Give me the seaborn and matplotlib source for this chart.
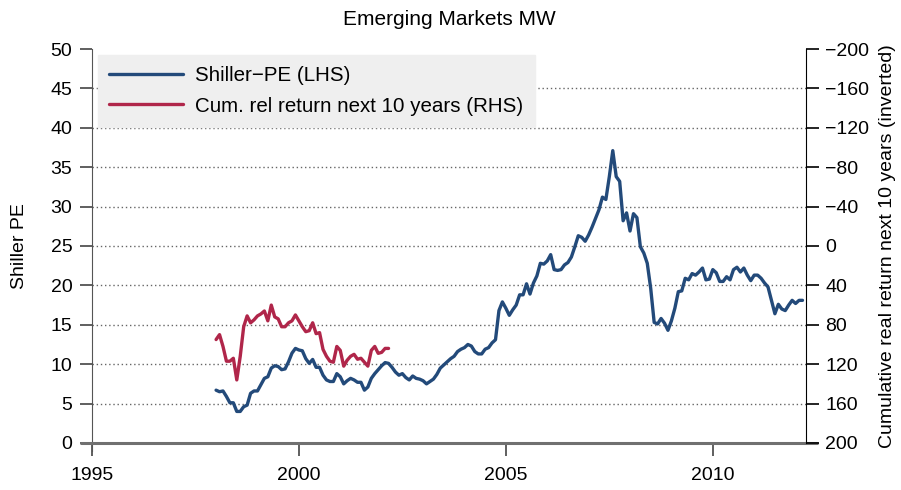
import matplotlib
matplotlib.use("Agg")
import matplotlib.pyplot as plt
import pandas as pd
import seaborn as sns
import numpy as np

# Shiller PE, monthly from Jan 1998 (LHS)
shiller_pe = [6.7, 6.5, 6.6, 5.9, 5.1, 5.1, 4.0, 4.0, 4.6, 4.8, 6.3, 6.6,
              6.6, 7.4, 8.2, 8.4, 9.5, 9.8, 9.7, 9.3, 9.4, 10.3, 11.4, 12.0,
              11.8, 11.7, 10.7, 10.1, 10.6, 9.6, 9.6, 8.6, 8.0, 7.8, 7.8, 8.8,
              8.4, 7.5, 7.9, 8.2, 8.0, 7.7, 7.7, 6.7, 7.1, 8.2, 8.8, 9.3,
              9.8, 10.2, 10.1, 9.6, 9.0, 8.6, 8.8, 8.3, 8.0, 8.5, 8.2, 8.1,
              7.9, 7.5, 7.8, 8.1, 8.7, 9.5, 9.9, 10.3, 10.7, 11.0, 11.6, 11.9,
              12.1, 12.5, 12.3, 11.6, 11.3, 11.3, 11.9, 12.1, 12.7, 13.1, 16.8, 17.9,
              17.1, 16.2, 16.9, 17.5, 18.8, 18.8, 20.2, 18.9, 20.3, 21.2, 22.8, 22.7,
              23.1, 23.9, 22.0, 21.9, 22.0, 22.6, 22.9, 23.6, 24.9, 26.3, 26.1, 25.6,
              26.4, 27.4, 28.5, 29.6, 31.2, 30.9, 33.8, 37.1, 33.8, 33.2, 28.2, 29.2,
              26.9, 29.1, 28.6, 24.9, 24.1, 22.8, 19.6, 15.3, 15.1, 15.8, 15.2, 14.3,
              15.5, 17.1, 19.2, 19.3, 20.9, 20.7, 21.5, 21.3, 21.7, 22.2, 20.7, 20.8,
              22.0, 21.6, 20.5, 20.5, 21.1, 20.7, 22.0, 22.3, 21.7, 22.2, 21.3, 20.6,
              21.3, 21.3, 20.9, 20.3, 19.8, 18.1, 16.4, 17.6, 17.0, 16.8, 17.5, 18.1,
              17.7, 18.1, 18.1]

# cumulative relative return over the next 10 years, monthly from Jan 1998 (RHS, inverted)
cum_rel_return = [95, 90, 102, 117, 117, 114, 136, 112, 82, 71, 78, 75,
                  71, 69, 66, 76, 60, 72, 74, 82, 82, 78, 76, 70,
                  76, 82, 87, 86, 78, 89, 88, 105, 112, 117, 118, 102,
                  106, 122, 116, 112, 110, 115, 114, 118, 122, 106, 102, 109,
                  108, 104, 104]

def to_year(n):
    # decimal years for monthly data starting Jan 1998
    return 1998 + np.arange(n) / 12.0

pe_df = pd.DataFrame({'year': to_year(len(shiller_pe)), 'value': shiller_pe})
ret_df = pd.DataFrame({'year': to_year(len(cum_rel_return)), 'value': cum_rel_return})

blue = '#234a7a'
red = '#b0264a'

sns.set_style("white")
plt.rcParams['font.family'] = ['Liberation Sans', 'DejaVu Sans']
plt.rcParams['text.color'] = 'black'
plt.rcParams['axes.labelcolor'] = 'black'
plt.rcParams['xtick.labelcolor'] = 'black'
plt.rcParams['ytick.labelcolor'] = 'black'

fig = plt.figure(figsize=(9.01, 4.9), dpi=100)
ax = fig.add_axes([0.102, 0.096, 0.7925, 0.804])
ax2 = ax.twinx()

sns.lineplot(data=pe_df, x='year', y='value', ax=ax, color=blue, lw=2.4, label='Shiller\u2212PE (LHS)', legend=False)
sns.lineplot(data=ret_df, x='year', y='value', ax=ax2, color=red, lw=2.4, label='Cum. rel return next 10 years (RHS)', legend=False)

ax.set_xlim(1995, 2012.25)
ax.set_ylim(0, 50)
ax2.set_ylim(200, -200)
ax.set_xticks([1995, 2000, 2005, 2010])
ax.set_yticks(range(0, 51, 5))
ax2.set_yticks(range(-200, 201, 40))

# dotted horizontal grid
for v in range(5, 50, 5):
    ax.axhline(v, color='#666666', lw=1.0, ls=(0, (1, 2)), zorder=0)
# zero line running past the spines
ax.axhline(0, xmin=-0.015, xmax=1.015, color='#707070', lw=2.2, clip_on=False, zorder=5)

for s in ['top', 'bottom']:
    ax.spines[s].set_visible(False)
    ax2.spines[s].set_visible(False)
ax.spines['right'].set_visible(False)
ax2.spines['left'].set_visible(False)
ax.spines['left'].set_color('#555555')
ax.spines['left'].set_bounds(-1, 50)
ax2.spines['right'].set_color('black')

ax.tick_params(axis='both', direction='out', length=9, width=1.2, color='#444444', labelsize=14, pad=5,
               left=True, bottom=True)
ax.tick_params(axis='x', pad=8)
ax2.tick_params(axis='y', direction='out', length=9, width=1.2, color='black', labelsize=14, pad=5, right=True)

ax.set_xlabel('')
ax.set_ylabel('Shiller PE', fontsize=14, labelpad=16)
ax2.set_ylabel('Cumulative real return next 10 years (inverted)', fontsize=14, labelpad=7)
ax.set_title('Emerging Markets MW', fontsize=15, pad=17)

h1, l1 = ax.get_legend_handles_labels()
h2, l2 = ax2.get_legend_handles_labels()
leg = ax2.legend(h1 + h2, l1 + l2, loc='upper left', bbox_to_anchor=(0.008, 0.985), borderaxespad=0,
                 fontsize=14.8, frameon=True, fancybox=False, handlelength=3.6, handletextpad=0.6,
                 borderpad=0.55, labelspacing=0.55)
leg.get_frame().set_facecolor('#efefef')
leg.get_frame().set_edgecolor('#efefef')
leg.get_frame().set_alpha(1)

fig.savefig('out.png', dpi=100)
